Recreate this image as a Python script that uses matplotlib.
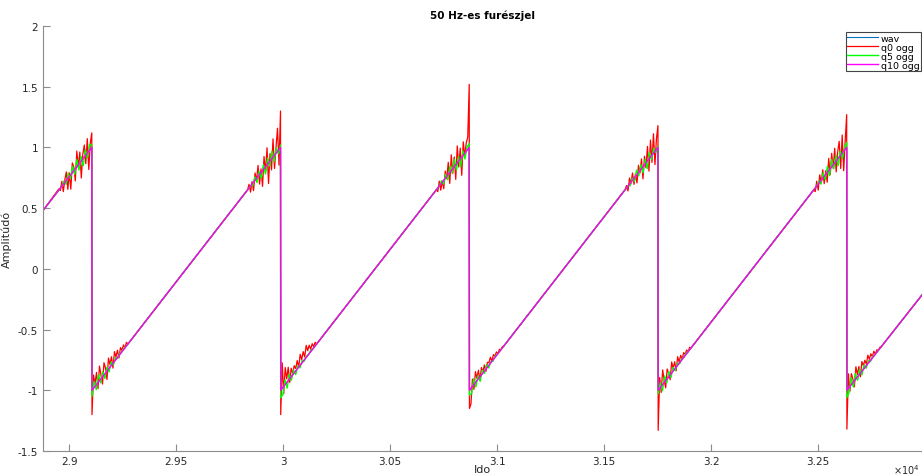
import numpy as np
import matplotlib
matplotlib.use("Agg")
import matplotlib.pyplot as plt

# ---------------- data ----------------
x_limits = [28878, 32986]
drops = [29107, 29989, 30871, 31753, 32635]   # sample index of each falling edge
saw_low, saw_high = -1.0, 1.0
start_value, end_value = 0.48, -0.215

x_ticks = [29000, 29500, 30000, 30500, 31000, 31500, 32000, 32500]
x_tick_labels = ["2.9", "2.95", "3", "3.05", "3.1", "3.15", "3.2", "3.25"]
y_ticks = [-1.5, -1, -0.5, 0, 0.5, 1, 1.5, 2]
y_tick_labels = ["-1.5", "-1", "-0.5", "0", "0.5", "1", "1.5", "2"]

series_names = ["wav", "q0 ogg", "q5 ogg", "q10 ogg"]

# q0 ogg: deviations from the ramp before / after every edge (every 7 samples)
q0_step = 7
q0_pre = [
    [0.01, -0.02, 0.04, -0.06, 0.02, 0.07, -0.09, 0.03, -0.12, 0.08, 0.03, -0.10, 0.13, -0.02, 0.09, -0.14, 0.04, 0.10, -0.07, 0.12, -0.15, 0.05],
    [0.00, 0.03, -0.05, 0.02, -0.07, 0.06, -0.02, 0.09, -0.08, 0.03, -0.13, 0.10, -0.04, 0.14, -0.17, 0.06, -0.09, 0.15, -0.11, 0.05, 0.19, -0.13],
    [0.00, -0.03, 0.04, -0.05, 0.01, -0.07, 0.06, -0.02, 0.10, -0.09, 0.13, -0.04, 0.08, -0.12, 0.14, -0.05, 0.09, -0.15, 0.11, -0.03, 0.07, 0.10],
    [0.00, 0.02, -0.04, 0.05, -0.01, 0.06, -0.05, 0.02, -0.07, 0.06, -0.02, 0.08, -0.10, 0.07, -0.04, 0.12, -0.10, 0.14, -0.06, 0.16, -0.11, 0.09],
    [0.00, -0.03, 0.04, -0.05, 0.06, -0.02, 0.07, -0.06, 0.03, -0.08, 0.10, -0.05, 0.11, -0.03, 0.12, -0.09, 0.06, 0.13, -0.11, 0.15, -0.16, 0.07],
]
q0_post = [
    [0.11, 0.02, 0.10, -0.05, 0.12, 0.03, -0.06, 0.10, 0.04, -0.07, 0.09, 0.02, 0.07, -0.04, 0.08, 0.02, 0.06, -0.02, 0.05, 0.01, 0.04, 0.00, 0.03, 0.00],
    [0.21, -0.06, 0.14, 0.03, 0.11, -0.03, 0.07, 0.01, 0.06, 0.02, 0.07, 0.00, 0.09, 0.03, 0.08, 0.02, 0.10, 0.04, 0.07, 0.02, 0.05, 0.01, 0.03, 0.00],
    [-0.13, 0.06, -0.04, 0.09, 0.02, 0.07, -0.03, 0.06, 0.01, 0.05, -0.02, 0.04, 0.02, 0.05, 0.00, 0.04, 0.01, 0.03, 0.00, 0.02, 0.00, 0.01, 0.00, 0.00],
    [0.09, -0.05, 0.12, 0.02, -0.06, 0.08, 0.03, -0.04, 0.09, 0.02, 0.06, -0.03, 0.07, 0.01, 0.05, 0.00, 0.04, 0.01, 0.03, 0.00, 0.02, 0.00, 0.00, 0.00],
    [0.12, -0.04, 0.09, 0.03, -0.05, 0.10, 0.02, 0.07, -0.03, 0.08, 0.03, 0.06, 0.01, 0.07, 0.02, 0.05, 0.01, 0.04, 0.00, 0.02, 0.00, 0.01, 0.00, 0.00],
]
q0_top = [1.12, 1.30, 1.52, 1.18, 1.27]
q0_bottom = [-1.20, -1.20, -1.15, -1.33, -1.32]

# q5 ogg: smaller deviations (every 10 samples)
q5_step = 10
q5_pre = [
    [0.00, 0.02, -0.03, 0.04, -0.03, 0.05, -0.04, 0.06, -0.05, 0.04, -0.06, 0.05, -0.04, 0.05],
    [0.00, -0.02, 0.03, -0.04, 0.03, -0.05, 0.04, -0.06, 0.05, -0.04, 0.06, -0.05, 0.04, -0.03],
    [0.00, 0.02, -0.03, 0.03, -0.04, 0.05, -0.03, 0.06, -0.05, 0.04, -0.07, 0.04, -0.05, 0.03],
    [0.00, -0.02, 0.02, -0.03, 0.04, -0.03, 0.04, -0.05, 0.04, -0.06, 0.05, -0.03, 0.04, -0.02],
    [0.00, 0.02, -0.03, 0.04, -0.04, 0.05, -0.05, 0.06, -0.04, 0.05, -0.06, 0.04, -0.05, 0.03],
]
q5_post = [
    [0.05, -0.04, 0.06, -0.03, 0.04, -0.04, 0.03, -0.03, 0.03, -0.02, 0.02, -0.01, 0.01, 0.00, 0.01, 0.00],
    [-0.06, 0.04, -0.05, 0.04, -0.03, 0.03, -0.03, 0.02, -0.02, 0.02, -0.01, 0.01, 0.00, 0.01, 0.00, 0.00],
    [-0.05, 0.05, -0.04, 0.03, -0.04, 0.03, -0.02, 0.03, -0.02, 0.01, -0.01, 0.01, 0.00, 0.00, 0.00, 0.00],
    [0.04, -0.05, 0.05, -0.03, 0.04, -0.03, 0.03, -0.02, 0.02, -0.01, 0.01, 0.00, 0.01, 0.00, 0.00, 0.00],
    [-0.04, 0.06, -0.04, 0.05, -0.03, 0.04, -0.03, 0.03, -0.02, 0.02, -0.01, 0.01, 0.00, 0.00, 0.00, 0.00],
]
q5_top = [1.02, 1.02, 1.03, 1.01, 1.04]
q5_bottom = [-1.05, -1.06, -1.04, -1.03, -1.06]

# ---------------- build vertex lists ----------------
wav_x = [x_limits[0]]
wav_y = [start_value]
for d in drops:
    wav_x += [d - 1, d]
    wav_y += [saw_high, saw_low]
wav_x.append(x_limits[1])
wav_y.append(end_value)
wav_x = np.array(wav_x, float)
wav_y = np.array(wav_y, float)


def ramp(n):
    return np.interp(n, wav_x, wav_y)


def noisy(pre, post, top, bottom, step):
    xs = [x_limits[0]]
    ys = [start_value]
    for i, d in enumerate(drops):
        npre = len(pre[i])
        for k, off in enumerate(pre[i]):
            n = d - 1 - step * (npre - k)
            xs.append(n)
            ys.append(ramp(n) + off)
        xs += [d - 1, d]
        ys += [top[i], bottom[i]]
        for k, off in enumerate(post[i]):
            n = d + step * (k + 1)
            xs.append(n)
            ys.append(ramp(n) + off)
    xs.append(x_limits[1])
    ys.append(end_value)
    return np.array(xs, float), np.array(ys, float)


q0_x, q0_y = noisy(q0_pre, q0_post, q0_top, q0_bottom, q0_step)
q5_x, q5_y = noisy(q5_pre, q5_post, q5_top, q5_bottom, q5_step)

# ---------------- plot ----------------
plt.rcParams['font.family'] = ['DejaVu Sans']
fig = plt.figure(figsize=(9.22, 4.77), dpi=100)
ax = fig.add_axes([43 / 922, 1 - 452 / 477, 1 - 43 / 922, (452 - 27) / 477])

ax.plot(wav_x, wav_y, color=(0, 0.447, 0.741), lw=0.8, label=series_names[0])
ax.plot(q0_x, q0_y, color=(1, 0, 0), lw=0.9, label=series_names[1])
ax.plot(q5_x, q5_y, color=(0, 1, 0), lw=1.0, label=series_names[2])
ax.plot(wav_x, wav_y, color=(1, 0, 1), lw=1.0, label=series_names[3])

ax.set_xlim(x_limits)
ax.set_ylim(-1.5, 2)
ax.set_xticks(x_ticks)
ax.set_xticklabels(x_tick_labels)
ax.set_yticks(y_ticks)
ax.set_yticklabels(y_tick_labels)

gray = "#262626"
for side in ["top", "right"]:
    ax.spines[side].set_visible(False)
for side in ["left", "bottom"]:
    ax.spines[side].set_color("#8c8c8c")
    ax.spines[side].set_linewidth(0.8)
ax.tick_params(direction="in", length=5, width=0.8, color="#8c8c8c",
               labelsize=7.5, labelcolor=gray)

ax.set_title("50 Hz-es furészjel", fontsize=7.5, fontweight="bold", color="black", pad=6)
ax.set_xlabel("Ido", fontsize=8, color=gray, labelpad=-1)
ax.set_ylabel("Amplitúdó", fontsize=8, color=gray, labelpad=4)
ax.text(0.997, -0.042, r"$\times\mathregular{10^4}$", transform=ax.transAxes,
        ha="right", va="center", fontsize=7, color=gray)

leg = ax.legend(loc="upper right", bbox_to_anchor=(0.9985, 0.985), fontsize=6.8,
                frameon=True, fancybox=False, edgecolor="#444444", framealpha=1,
                borderpad=0.15, labelspacing=0.0, handlelength=3.2,
                handletextpad=0.3, borderaxespad=0)
leg.get_frame().set_linewidth(0.8)

fig.savefig("out.png", dpi=100)
